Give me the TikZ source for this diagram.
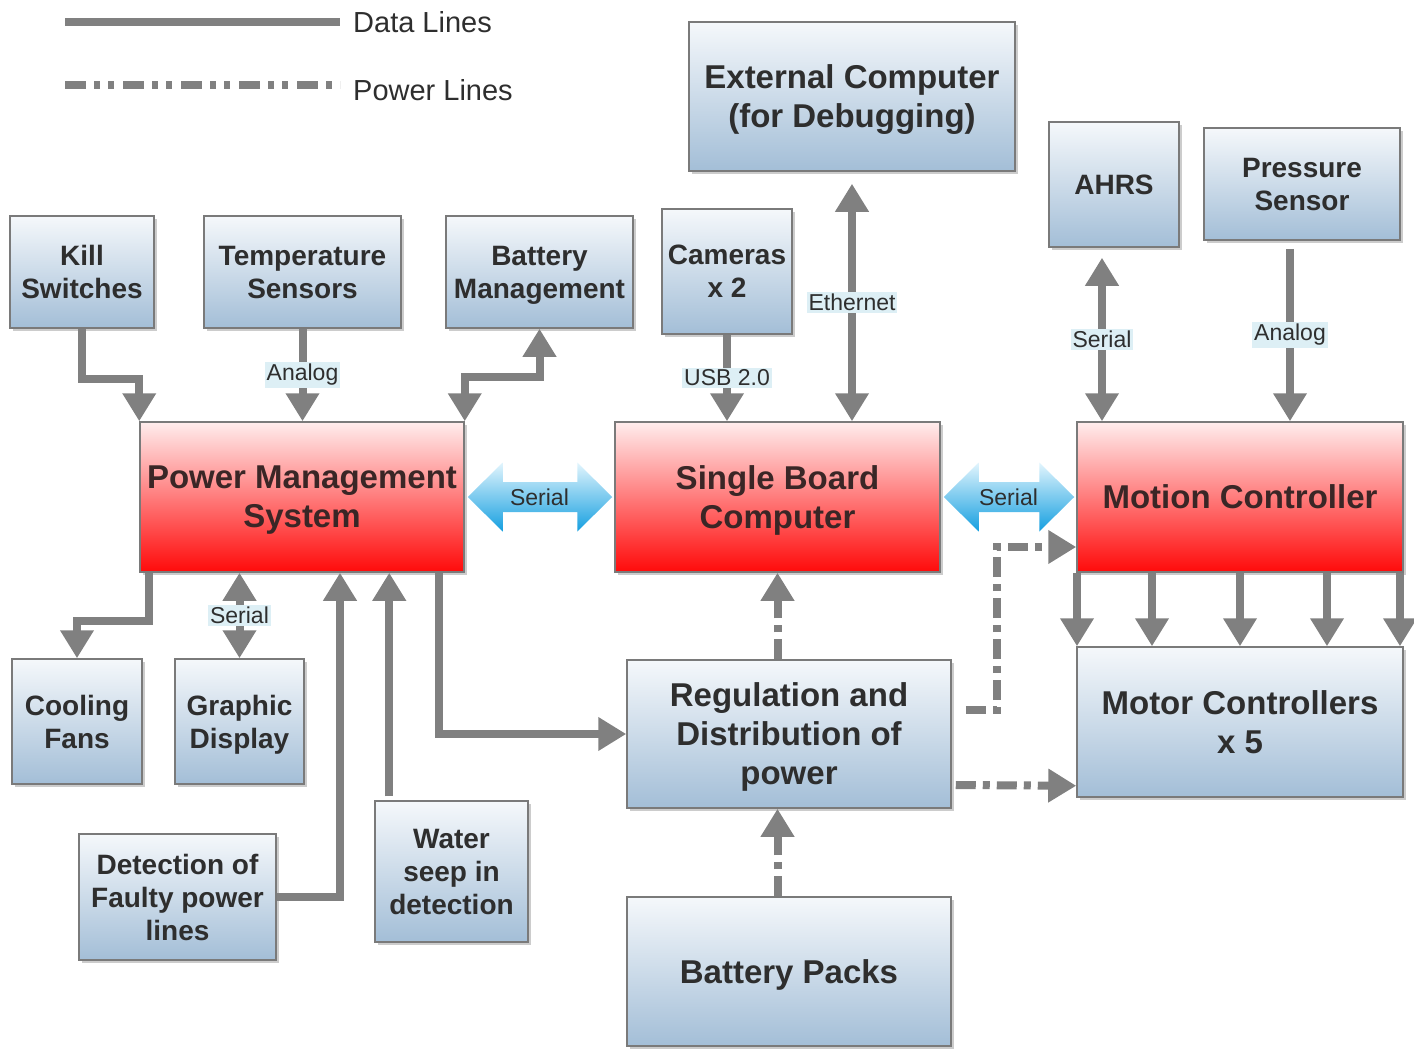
\documentclass[tikz,border=0pt]{standalone}
\usepackage{fontspec}
\setmainfont{Liberation Sans}
\usetikzlibrary{arrows.meta,calc,shadows}
\definecolor{linegray}{HTML}{808080}
\definecolor{boxborder}{HTML}{7A7A7A}
\definecolor{boxtop}{HTML}{F5F8FB}
\definecolor{boxbottom}{HTML}{A3BED7}
\definecolor{redtop}{HTML}{FFEDED}
\definecolor{redbottom}{HTML}{FF0A0A}
\definecolor{textgray}{HTML}{2E2E2E}
\definecolor{lblue}{HTML}{DDEFF5}
\definecolor{cyantop}{HTML}{E2F5FD}
\definecolor{cyanbottom}{HTML}{159FE0}

% fat two-way serial arrow between two boxes
\newcommand\fatserial[2]{%
  \path[top color=cyantop, bottom color=cyanbottom]
    let \p1=($(#1.east)+(3,0)$), \p2=($(#2.west)+(-2,0)$) in
    (\x1,\y1) -- (\x1+35pt,\y1+34.5pt) -- (\x1+35pt,\y1+15pt)
    -- (\x2-35pt,\y1+15pt) -- (\x2-35pt,\y1+34.5pt) -- (\x2,\y1)
    -- (\x2-35pt,\y1-34.5pt) -- (\x2-35pt,\y1-15pt)
    -- (\x1+35pt,\y1-15pt) -- (\x1+35pt,\y1-34.5pt) -- cycle;
  \node[linelabel, fill=none] at ($(#1.east)!.5!(#2.west)$) {Serial};}

\begin{document}
\begin{tikzpicture}[x=1pt, y=-1pt,
    box/.style={draw=boxborder, line width=1.5pt, top color=boxtop, bottom color=boxbottom,
      drop shadow={shadow xshift=3pt, shadow yshift=-3pt, opacity=.4},
      align=center, inner sep=0pt, text depth=0pt, text=textgray,
      font=\bfseries\fontsize{28}{33}\selectfont},
    bigbox/.style={box, font=\bfseries\fontsize{33}{39}\selectfont},
    redbox/.style={bigbox, top color=redtop, bottom color=redbottom, text={rgb,255:red,58;green,38;blue,38}},
    linelabel/.style={fill=lblue, inner xsep=2pt, inner ysep=2pt, text=textgray,
      font=\fontsize{23}{26}\selectfont},
    legendtext/.style={inner sep=0pt, anchor=west, text=textgray, font=\fontsize{29}{32}\selectfont},
    tip/.tip={Triangle[length=28pt, width=32pt]},
    data/.style={draw=linegray, line width=8pt, -tip},
    data2/.style={data, tip-tip},
    power/.style={data, dash pattern=on 20pt off 7pt on 7pt off 7pt}]
  \useasboundingbox (0,0) rectangle (1414,1062);

  % legend
  \node[legendtext] (datakey) at (353,22) {Data Lines};
  \node[legendtext] (powerkey) at (353,90) {Power Lines};
  \coordinate (datastart) at (65,22);
  \coordinate (powerstart) at (65,85);
  \draw[draw=linegray, line width=8pt] (datastart) -- (datastart -| 340,0);
  \draw[draw=linegray, line width=8pt, dash pattern=on 21pt off 8pt on 6pt off 8pt on 6pt off 9pt]
    (powerstart) -- (powerstart -| 340,0);

  % boxes
  \node[box, minimum width=144, minimum height=112] (kill) at (82,272) {Kill\\Switches};
  \node[box, minimum width=197, minimum height=112] (temp) at (302.5,272) {Temperature\\Sensors};
  \node[box, minimum width=187, minimum height=112] (batm) at (539.5,272) {Battery\\Management};
  \node[box, minimum width=130, minimum height=125] (cam) at (727,271.5) {Cameras\\x 2};
  \node[bigbox, minimum width=326, minimum height=149] (ext) at (852,96.5) {External Computer\\(for Debugging)};
  \node[box, minimum width=130, minimum height=125] (ahrs) at (1114,184.5) {AHRS};
  \node[box, minimum width=196, minimum height=112] (press) at (1302,184) {Pressure\\Sensor};
  \node[redbox, minimum width=324, minimum height=150] (pms) at (302,497) {Power Management\\System};
  \node[redbox, minimum width=325, minimum height=150] (sbc) at (777.5,497) {Single Board\\Computer};
  \node[redbox, minimum width=326, minimum height=150] (mc) at (1240,497) {Motion Controller};
  \node[box, minimum width=130, minimum height=125] (fans) at (77,721.5) {Cooling\\Fans};
  \node[box, minimum width=129, minimum height=125] (disp) at (239.5,721.5) {Graphic\\Display};
  \node[bigbox, minimum width=324, minimum height=148] (reg) at (789,734) {Regulation and\\Distribution of\\power};
  \node[bigbox, minimum width=326, minimum height=150] (motc) at (1240,722) {Motor Controllers\\x 5};
  \node[box, minimum width=197, minimum height=126] (fault) at (177.5,897) {Detection of\\Faulty power\\lines};
  \node[box, minimum width=153, minimum height=141] (water) at (451.5,871.5) {Water\\seep in\\detection};
  \node[bigbox, minimum width=324, minimum height=149] (bpack) at (789,971.5) {Battery Packs};

  % free line ends
  \coordinate (ahrsout) at ($(ahrs.south)+(-12,10)$);
  \coordinate (pressout) at ($(press.south)+(-12,8)$);
  \coordinate (waterout) at ($(water.north west)+(15,-4)$);

  % data lines
  \draw[data] (kill.south) |- ($(pms.north west)+(0,-42)$) -- (pms.north west);
  \draw[data] (temp.south) -- (temp.south |- pms.north) node[linelabel, midway] {Analog};
  \draw[data2] (pms.north east) -- ++(0,-44) -| (batm.south);
  \draw[data] (cam.south) -- (cam.south |- sbc.north) node[linelabel, midway] {USB 2.0};
  \draw[data2] ($(ext.south)+(0,12)$) -- (ext.south |- sbc.north) node[linelabel, midway] {Ethernet};
  \draw[data2] (ahrsout) -- (ahrsout |- mc.north) node[linelabel, midway] {Serial};
  \draw[data] (pressout) -- (pressout |- mc.north) node[linelabel, midway] {Analog};
  \draw[data] ($(pms.south west)+(10,0)$) -- ++(0,48) -| (fans.north);
  \draw[data2] (disp.north |- pms.south) -- (disp.north) node[linelabel, midway] {Serial};
  \draw[data] (fault.east) -| ($(pms.south)+(38,0)$);
  \draw[data] (waterout) -- (waterout |- pms.south);
  \draw[data] ($(pms.south east)+(-26,0)$) |- (reg.west);
  \foreach \dx in {-163,-88,0,87,160}
    \draw[data] ($(mc.south)+(\dx,0)$) -- ($(motc.north)+(\dx,0)$);

  % serial links
  \fatserial{pms}{sbc}
  \fatserial{sbc}{mc}

  % power lines
  \draw[power] (sbc.south |- reg.north) -- (sbc.south);
  \draw[power] (sbc.south |- bpack.north) -- (sbc.south |- reg.south);
  \draw[power] ($(reg.east)+(14,-24)$) -- ++(31,0) |- ($(mc.west)+(0,50)$);
  \draw[power] ($(reg.east)+(4,51)$) -- ($(motc.south west)+(0,-12)$);
\end{tikzpicture}
\end{document}
